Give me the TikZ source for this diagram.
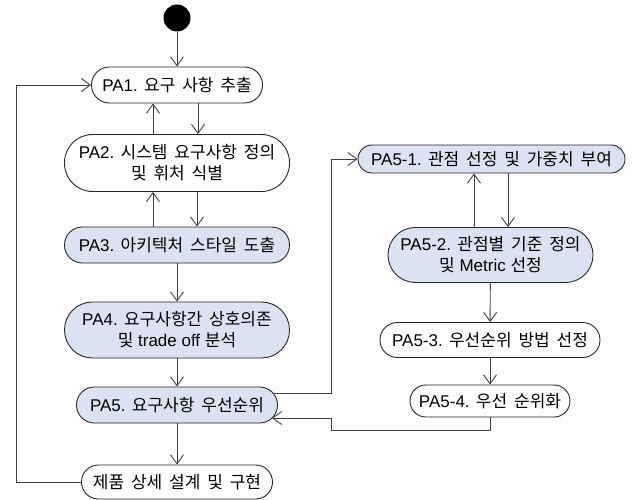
\documentclass[tikz,border=0pt]{standalone}
\usepackage{fontspec}
\setmainfont{Liberation Sans}
\newfontfamily\ko[WordSpace=1.8]{Noto Sans CJK KR}
\usetikzlibrary{arrows.meta}
\definecolor{actblue}{HTML}{DBE2F1}
\definecolor{lineg}{HTML}{404040}
\tikzset{
  act/.style={draw=black!85, line width=0.9pt, rounded corners=#1, inner sep=0pt, align=center, font=\fontsize{17}{21}\selectfont},
  wbox/.style={act=#1, fill=white},
  bbox/.style={act=#1, fill=actblue},
  arr/.style={draw=lineg, line width=0.9pt, -{Straight Barb[length=9pt,width=13pt,line width=0.9pt]}},
  ln/.style={draw=lineg, line width=0.9pt}
}
\begin{document}
\begin{tikzpicture}[x=1pt,y=-1pt]
\useasboundingbox (0,0) rectangle (634,500);
\node[circle, fill=black, minimum size=27pt, inner sep=0pt] (start) at (177,18) {};
\node[wbox=17.9pt, minimum width=171pt, minimum height=36pt] (pa1) at (177,85) {PA1. {\ko 요구 사항 추출}};
\node[wbox=28pt, minimum width=225pt, minimum height=57pt] (pa2) at (177,163) {PA2. {\ko 시스템 요구사항 정의}\\{\ko 및 휘처 식별}};
\node[bbox=17.9pt, minimum width=225pt, minimum height=36pt] (pa3) at (177,245) {PA3. {\ko 아키텍처 스타일 도출}};
\node[bbox=27.9pt, minimum width=225pt, minimum height=56pt] (pa4) at (177,330) {PA4. {\ko 요구사항간 상호의존}\\{\ko 및} trade off {\ko 분석}};
\node[bbox=17.9pt, minimum width=201pt, minimum height=36pt] (pa5) at (177,405) {PA5. {\ko 요구사항 우선순위}};
\node[wbox=16.9pt, minimum width=191pt, minimum height=34pt] (fin) at (177,482) {{\ko 제품 상세 설계 및 구현}};
\node[bbox=13.9pt, minimum width=267pt, minimum height=28pt] (p51) at (491.5,159) {PA5-1. {\ko 관점 선정 및 가중치 부여}};
\node[bbox=27.4pt, minimum width=205pt, minimum height=55pt] (p52) at (490.5,255) {PA5-2. {\ko 관점별 기준 정의}\\{\ko 및} Metric {\ko 선정}};
\node[wbox=17.4pt, minimum width=220pt, minimum height=35pt] (p53) at (490,340) {PA5-3. {\ko 우선순위 방법 선정}};
\node[wbox=15.9pt, minimum width=160pt, minimum height=32pt] (p54) at (490,401) {PA5-4. {\ko 우선 순위화}};
\coordinate (L) at (16,0);
\coordinate (R) at (331,0);
% left column
\draw[arr] (start) -- (pa1);
\draw[arr] ([xshift=21pt]pa1.south) -- ([xshift=21pt]pa1.south |- pa2.north);
\draw[arr] ([xshift=-24pt]pa2.north) -- ([xshift=-24pt]pa2.north |- pa1.south);
\draw[arr] ([xshift=20pt]pa2.south) -- ([xshift=20pt]pa2.south |- pa3.north);
\draw[arr] ([xshift=-24pt]pa3.north) -- ([xshift=-24pt]pa3.north |- pa2.south);
\draw[arr] (pa3) -- (pa4);
\draw[arr] (pa4) -- (pa5);
\draw[arr] (pa5) -- (fin);
\draw[arr] (fin.west) -- (fin.west -| L) -- (pa1.west -| L) -- (pa1.west);
% right column
\draw[arr] ([xshift=-4pt,yshift=12pt]pa5.east) -- ([yshift=12pt]pa5.east -| R) -- (p51.west -| R) -- (p51.west);
\draw[arr] ([xshift=16.5pt]p51.south) -- ([xshift=16.5pt]p51.south |- p52.north);
\draw[arr] ([xshift=-16.5pt]p52.north) -- ([xshift=-16.5pt]p52.north |- p51.south);
\draw[arr] (p52) -- (p53);
\draw[arr] (p53) -- (p54);
\coordinate (B) at (0,430);
\draw[arr] (p54.south) -- (p54.south |- B) -- (B -| R) -- ([yshift=-13pt]pa5.east -| R) -- ([xshift=-6pt,yshift=-13pt]pa5.east);
\end{tikzpicture}
\end{document}
